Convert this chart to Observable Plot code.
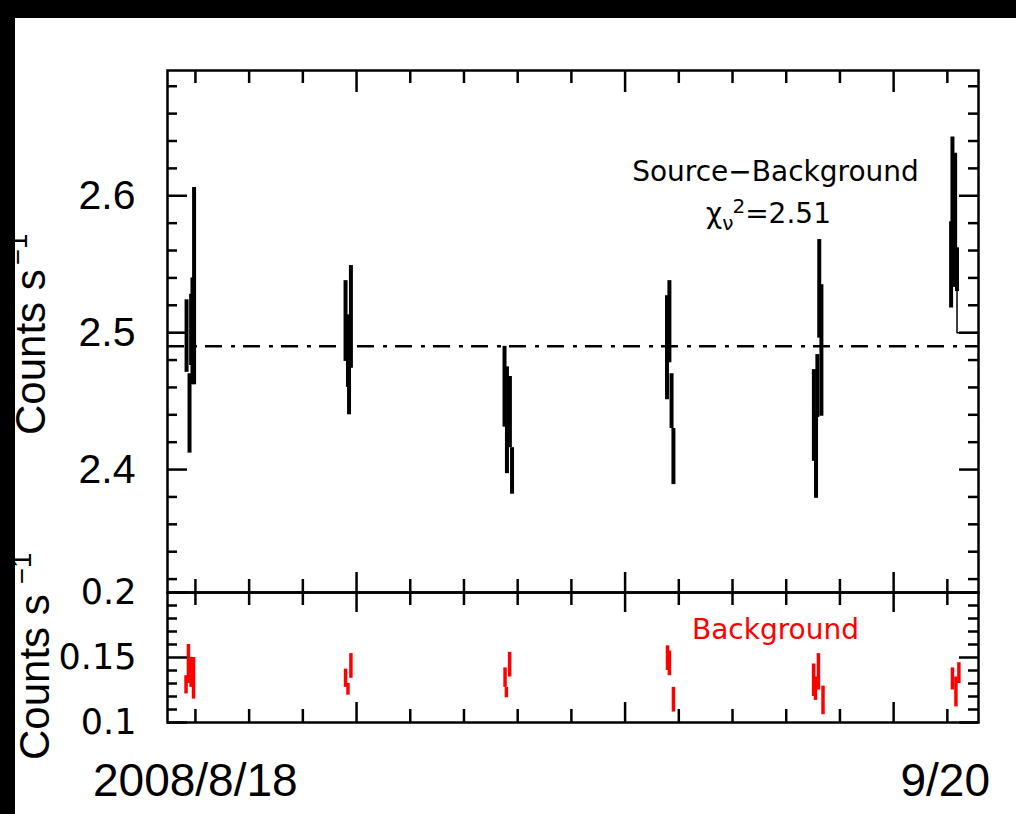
<!DOCTYPE html>
<html><head><meta charset="utf-8">
<script src="https://cdn.jsdelivr.net/npm/d3@7"></script>
<script src="https://cdn.jsdelivr.net/npm/@observablehq/plot@0.6"></script>
<style>
html,body{margin:0;padding:0;background:#fff;}
#wrap{position:relative;width:1016px;height:814px;overflow:hidden;background:#fff;}
#wrap > svg{position:absolute;left:0;top:0;}
.band{position:absolute;background:#000;z-index:10;}
.date{position:absolute;font-family:"Liberation Sans",Arial,sans-serif;font-size:46px;color:#000;line-height:1;white-space:nowrap;}
</style></head><body><div id="wrap"></div>
<script>
// ---- data (time in units of 1e5 s) ----
const xDomain = [2.96, 33.16];
const yTopDomain = [2.3102, 2.6915];
const yBotDomain = [0.1, 0.2];

const srcT  = [3.67,3.78,3.84,3.89,3.95, 9.59,9.68,9.72,9.79, 15.51,15.60,15.71,15.79, 21.56,21.65,21.73,21.80, 27.03,27.11,27.16,27.23,27.31, 32.14,32.19,32.29,32.36];
const srcLo = [2.471,2.412,2.476,2.462,2.462, 2.479,2.460,2.440,2.474, 2.431,2.397,2.416,2.382, 2.451,2.478,2.430,2.389, 2.406,2.379,2.438,2.496,2.439, 2.518,2.534,2.533,2.530];
const srcHi = [2.524,2.470,2.528,2.540,2.606, 2.538,2.513,2.479,2.549, 2.490,2.475,2.468,2.416, 2.527,2.538,2.470,2.430, 2.473,2.440,2.484,2.568,2.535, 2.581,2.643,2.631,2.562];

const bkgT  = [3.65,3.74,3.84,3.93, 9.59,9.68,9.79, 15.53,15.58,15.70, 21.58,21.65,21.80, 27.02,27.09,27.20,27.37, 32.19,32.32,32.43];
const bkgLo = [0.122,0.130,0.127,0.118, 0.127,0.121,0.134, 0.127,0.119,0.135, 0.140,0.136,0.108, 0.120,0.117,0.125,0.106, 0.125,0.112,0.130];
const bkgHi = [0.136,0.160,0.150,0.150, 0.141,0.130,0.153, 0.142,0.127,0.154, 0.159,0.155,0.127, 0.145,0.135,0.153,0.128, 0.142,0.135,0.146];

const fitLevel = 2.49;      // constant fit
const stepEdgeLevel = 2.50; // histogram edge level
const chiValue = "2.51";

const xMajor = [10, 20, 30];
const xMinor = [4, 6, 8, 12, 14, 16, 18, 22, 24, 26, 28, 32];
const yTopMajor = [2.4, 2.5, 2.6];
const yTopMinor = [2.32,2.34,2.36,2.38,2.42,2.44,2.46,2.48,2.52,2.54,2.56,2.58,2.62,2.64,2.66,2.68];
const yTopLabels = ["2.4", "2.5", "2.6"];
const yBotMajor = [0.1, 0.15, 0.2];
const yBotMinor = [0.11,0.12,0.13,0.14,0.16,0.17,0.18,0.19];
const yBotLabels = ["0.1", "0.15", "0.2"];
const startLabel = "2008/8/18";
const endLabel = "9/20";

// ---- layout ----
const W = 1016, H = 814;
const FL = 167, FR = 978, FT = 70, FD = 592, FB = 722;
const topH = FD - FT, botH = FB - FD, frW = FR - FL;

const src = srcT.map((t, i) => ({t, lo: srcLo[i], hi: srcHi[i]}));
const bkg = bkgT.map((t, i) => ({t, lo: bkgLo[i], hi: bkgHi[i]}));
const last = src[src.length - 1];
const leftStep = [{t: xDomain[0], v: stepEdgeLevel}, {t: src[0].t, v: stepEdgeLevel}];
const rightStep = [{t: last.t, v: last.lo}, {t: last.t, v: stepEdgeLevel}, {t: xDomain[1], v: stepEdgeLevel}];

const tk = {stroke: "black", strokeWidth: 2.5};
const id = d => d;

const chiPlaceholder = "CHI=" + chiValue;

const topPlot = Plot.plot({
  width: W, height: H,
  marginLeft: FL, marginRight: W - FR, marginTop: FT, marginBottom: H - FD,
  x: {domain: xDomain, axis: null},
  y: {domain: yTopDomain, axis: null},
  style: {background: "transparent", overflow: "visible"},
  marks: [
    Plot.ruleY([fitLevel], {stroke: "black", strokeWidth: 2.5, strokeDasharray: "17,9,4,8"}),
    Plot.line(leftStep, {x: "t", y: "v", stroke: "black", strokeWidth: 1.5}),
    Plot.line(rightStep, {x: "t", y: "v", stroke: "black", strokeWidth: 1.5}),
    Plot.ruleX(src, {x: "t", y1: "lo", y2: "hi", stroke: "black", strokeWidth: 4}),
    // ticks: bottom (up), top (down), left, right
    Plot.tickX(xMajor, {x: id, ...tk, insetTop: topH - 20}),
    Plot.tickX(xMinor, {x: id, ...tk, insetTop: topH - 13}),
    Plot.tickX(xMajor, {x: id, ...tk, insetBottom: topH - 22}),
    Plot.tickX(xMinor, {x: id, ...tk, insetBottom: topH - 13}),
    Plot.tickY(yTopMajor, {y: id, ...tk, insetRight: frW - 20}),
    Plot.tickY(yTopMinor, {y: id, ...tk, insetRight: frW - 10}),
    Plot.tickY(yTopMajor, {y: id, ...tk, insetLeft: frW - 19}),
    Plot.tickY(yTopMinor, {y: id, ...tk, insetLeft: frW - 10}),
    Plot.frame({stroke: "black", strokeWidth: 2.5}),
    Plot.text(yTopMajor, {y: id, text: (d, i) => yTopLabels[i], frameAnchor: "left", dx: -32, textAnchor: "end",
      fontSize: 41, fontFamily: "Liberation Sans", fill: "black"}),
    Plot.text(["Source\u2212Background"], {x: [25.60], y: [2.6176], text: id, fontSize: 28, fontFamily: "DejaVu Sans", fill: "black"}),
    Plot.text([chiPlaceholder], {x: [25.34], y: [2.5868], text: id, fontSize: 28, fontFamily: "DejaVu Sans", fill: "black"})
  ]
});

const botPlot = Plot.plot({
  width: W, height: H,
  marginLeft: FL, marginRight: W - FR, marginTop: FD, marginBottom: H - FB,
  x: {domain: xDomain, axis: null},
  y: {domain: yBotDomain, axis: null},
  style: {background: "transparent", overflow: "visible"},
  marks: [
    Plot.ruleX(bkg, {x: "t", y1: "lo", y2: "hi", stroke: "#ff0000", strokeWidth: 3.5}),
    Plot.tickX(xMajor, {x: id, ...tk, insetTop: botH - 20}),
    Plot.tickX(xMinor, {x: id, ...tk, insetTop: botH - 13}),
    Plot.tickX(xMajor, {x: id, ...tk, insetBottom: botH - 20}),
    Plot.tickX(xMinor, {x: id, ...tk, insetBottom: botH - 13}),
    Plot.tickY(yBotMajor, {y: id, ...tk, insetRight: frW - 20}),
    Plot.tickY(yBotMinor, {y: id, ...tk, insetRight: frW - 10}),
    Plot.tickY(yBotMajor, {y: id, ...tk, insetLeft: frW - 19}),
    Plot.tickY(yBotMinor, {y: id, ...tk, insetLeft: frW - 10}),
    Plot.frame({stroke: "black", strokeWidth: 2.5}),
    Plot.text(yBotMajor, {y: id, text: (d, i) => yBotLabels[i], frameAnchor: "left", dx: -31, textAnchor: "end",
      dy: 0, fontSize: 35, fontFamily: "DejaVu Sans", fill: "black"}),
    Plot.text(["Background"], {x: [25.60], y: [0.1708], text: id, fontSize: 28, fontFamily: "DejaVu Sans", fill: "#ff0000"})
  ]
});

const wrap = document.getElementById("wrap");
wrap.appendChild(topPlot);
wrap.appendChild(botPlot);

// chi-square label with sub/superscripts
const NS = "http://www.w3.org/2000/svg";
topPlot.querySelectorAll("text").forEach(t => {
  if (t.textContent === chiPlaceholder) {
    t.textContent = "";
    const add = (s, attrs) => {
      const ts = document.createElementNS(NS, "tspan");
      ts.textContent = s;
      for (const k in attrs) ts.setAttribute(k, attrs[k]);
      t.appendChild(ts);
    };
    add("\u03C7", {});
    add("\u03BD", {"font-size": "20", dy: "7"});
    add("2", {"font-size": "20", dy: "-17", dx: "-1"});
    add("=" + chiValue, {dy: "10"});
  }
});

// y-axis titles
const lab = document.createElementNS(NS, "svg");
lab.setAttribute("width", W); lab.setAttribute("height", H);
function yTitle(x, y, size, gap) {
  const t = document.createElementNS(NS, "text");
  t.setAttribute("transform", `translate(${x},${y}) rotate(-90)`);
  t.setAttribute("font-family", "Liberation Sans, Arial, sans-serif");
  t.setAttribute("font-size", size);
  t.setAttribute("fill", "black");
  t.appendChild(document.createTextNode("Counts s"));
  const sup = document.createElementNS(NS, "tspan");
  sup.setAttribute("font-size", size * 0.66);
  sup.setAttribute("dy", -size * 0.44);
  sup.setAttribute("dx", gap);
  sup.textContent = "\u22121";
  t.appendChild(sup);
  lab.appendChild(t);
}
yTitle(45, 435, 42, 4);
yTitle(49, 760, 42, 10);
wrap.appendChild(lab);

// date annotations
const d1 = document.createElement("div");
d1.className = "date"; d1.textContent = startLabel;
d1.style.left = "93px"; d1.style.top = "757px";
wrap.appendChild(d1);
const d2 = document.createElement("div");
d2.className = "date"; d2.textContent = endLabel;
d2.style.right = (W - 990) + "px"; d2.style.top = "757px";
wrap.appendChild(d2);

// black border bands from the cropped slide
const b1 = document.createElement("div"); b1.className = "band";
b1.style.cssText += "left:0;top:0;width:15px;height:814px;";
wrap.appendChild(b1);
const b2 = document.createElement("div"); b2.className = "band";
b2.style.cssText += "left:0;top:0;width:1016px;height:18px;";
wrap.appendChild(b2);
</script></body></html>
